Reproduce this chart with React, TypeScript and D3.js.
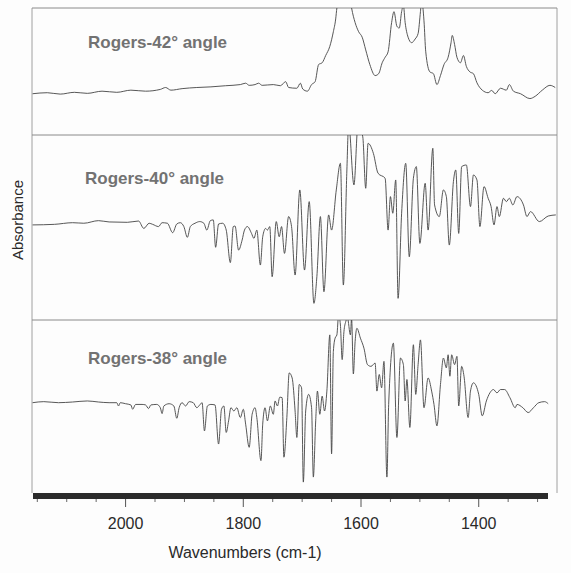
import React from "react";
import * as d3 from "d3";

// ---- data (wavenumber cm-1, relative absorbance within each panel 0..1) ----
const spectrum42: [number, number][] = [
  [2158, 0.325], [2133, 0.333], [2111, 0.322], [2087, 0.336], [2065, 0.328], [2040, 0.345],
  [2015, 0.336], [1991, 0.353], [1966, 0.345], [1941, 0.359], [1932, 0.374], [1923, 0.353],
  [1904, 0.365], [1879, 0.374], [1855, 0.379], [1830, 0.388], [1805, 0.397], [1796, 0.408],
  [1790, 0.391], [1780, 0.397], [1774, 0.408], [1768, 0.391], [1749, 0.397],
  [1737, 0.388], [1728, 0.42], [1723, 0.374], [1709, 0.368], [1703, 0.408], [1699, 0.362],
  [1691, 0.345], [1684, 0.397], [1678, 0.42], [1672, 0.555], [1666, 0.569], [1660, 0.626],
  [1653, 0.698], [1647, 0.813], [1643, 0.914], [1641, 1.0], [1632, 1.15], [1620, 1.12],
  [1616, 1.0], [1610, 0.885], [1604, 0.813], [1598, 0.77], [1592, 0.67], [1585, 0.555],
  [1576, 0.468], [1570, 0.483], [1564, 0.569], [1559, 0.612], [1554, 0.655], [1548, 0.885],
  [1544, 0.971], [1539, 0.856], [1535, 0.842], [1531, 0.971], [1528, 1.02], [1525, 0.885],
  [1520, 0.77], [1514, 0.727], [1508, 0.756], [1503, 0.799], [1499, 0.971], [1497, 1.06],
  [1493, 0.899], [1490, 0.655], [1483, 0.497], [1477, 0.483], [1471, 0.397], [1465, 0.468],
  [1459, 0.555], [1452, 0.612], [1447, 0.727], [1445, 0.784], [1441, 0.713], [1437, 0.612],
  [1431, 0.569], [1426, 0.626], [1421, 0.54], [1415, 0.497], [1409, 0.483], [1403, 0.411],
  [1394, 0.353], [1384, 0.333], [1378, 0.351], [1372, 0.325], [1363, 0.368], [1353, 0.353],
  [1348, 0.397], [1341, 0.345], [1329, 0.325], [1313, 0.287], [1304, 0.305], [1292, 0.353],
  [1279, 0.391], [1270, 0.374],
];

const spectrum40: [number, number][] = [
  [2158, 0.514], [2121, 0.517], [2090, 0.526], [2071, 0.523], [2046, 0.537], [2028, 0.53],
  [1997, 0.528], [1978, 0.535], [1969, 0.495], [1960, 0.523], [1954, 0.517], [1944, 0.505],
  [1938, 0.526], [1929, 0.523], [1920, 0.472], [1913, 0.519], [1907, 0.526], [1901, 0.505],
  [1895, 0.447], [1890, 0.505], [1882, 0.523], [1874, 0.532], [1867, 0.523], [1862, 0.486],
  [1856, 0.537], [1851, 0.541], [1847, 0.393], [1842, 0.519], [1835, 0.523], [1829, 0.486],
  [1822, 0.31], [1817, 0.505], [1814, 0.508], [1808, 0.378], [1802, 0.432], [1798, 0.486],
  [1793, 0.505], [1786, 0.468], [1782, 0.441], [1777, 0.486], [1771, 0.297], [1767, 0.45],
  [1762, 0.495], [1759, 0.486], [1755, 0.505], [1751, 0.234], [1744, 0.532], [1739, 0.45],
  [1735, 0.505], [1730, 0.36], [1723, 0.559], [1718, 0.505], [1712, 0.243], [1704, 0.703],
  [1696, 0.27], [1688, 0.64], [1680, 0.09], [1675, 0.234], [1669, 0.559], [1663, 0.153],
  [1655, 0.568], [1650, 0.486], [1642, 0.703], [1635, 0.847], [1630, 0.189], [1624, 0.811],
  [1621, 1.06], [1612, 0.73], [1605, 1.06], [1597, 0.99], [1592, 0.712], [1588, 0.955],
  [1579, 0.901], [1571, 0.793], [1559, 0.766], [1554, 0.486], [1550, 0.667], [1546, 0.577],
  [1541, 0.757], [1537, 0.117], [1531, 0.577], [1524, 0.847], [1518, 0.342], [1511, 0.766],
  [1506, 0.829], [1500, 0.414], [1491, 0.739], [1486, 0.486], [1478, 0.928], [1475, 0.622],
  [1467, 0.559], [1460, 0.703], [1455, 0.667], [1450, 0.405], [1443, 0.748], [1439, 0.811],
  [1434, 0.468], [1429, 0.829], [1421, 0.838], [1414, 0.613], [1409, 0.784], [1403, 0.757],
  [1398, 0.505], [1391, 0.721], [1384, 0.658], [1379, 0.613], [1374, 0.514], [1369, 0.613],
  [1365, 0.559], [1358, 0.658], [1353, 0.64], [1348, 0.658], [1342, 0.622], [1335, 0.667],
  [1324, 0.622], [1318, 0.559], [1312, 0.586], [1297, 0.532], [1282, 0.562], [1269, 0.568],
];

const spectrum38: [number, number][] = [
  [2158, 0.522], [2139, 0.528], [2114, 0.522], [2090, 0.526], [2065, 0.532], [2046, 0.526],
  [2028, 0.522], [2015, 0.522], [2012, 0.503], [2009, 0.522], [2000, 0.516], [1991, 0.509],
  [1988, 0.484], [1983, 0.512], [1972, 0.512], [1966, 0.509], [1961, 0.488], [1957, 0.509],
  [1947, 0.512], [1941, 0.493], [1938, 0.459], [1935, 0.503], [1926, 0.516], [1918, 0.503],
  [1913, 0.432], [1909, 0.493], [1904, 0.522], [1898, 0.503], [1892, 0.528], [1885, 0.522],
  [1879, 0.493], [1874, 0.509], [1870, 0.522], [1866, 0.359], [1861, 0.503], [1855, 0.512],
  [1848, 0.509], [1842, 0.283], [1837, 0.484], [1833, 0.503], [1829, 0.35], [1825, 0.417],
  [1821, 0.493], [1816, 0.474], [1811, 0.493], [1805, 0.436], [1800, 0.484], [1796, 0.398],
  [1790, 0.264], [1785, 0.455], [1780, 0.493], [1777, 0.436], [1770, 0.187], [1767, 0.398],
  [1763, 0.493], [1759, 0.417], [1754, 0.503], [1749, 0.455], [1746, 0.532], [1742, 0.503],
  [1738, 0.554], [1734, 0.551], [1731, 0.207], [1726, 0.436], [1722, 0.694], [1717, 0.665],
  [1712, 0.474], [1709, 0.321], [1705, 0.627], [1701, 0.608], [1698, 0.063], [1694, 0.474],
  [1689, 0.57], [1684, 0.493], [1681, 0.092], [1677, 0.417], [1674, 0.589], [1670, 0.455],
  [1666, 0.56], [1662, 0.474], [1658, 0.589], [1653, 0.914], [1650, 0.226], [1647, 0.818],
  [1644, 0.895], [1641, 0.914], [1638, 1.03], [1635, 0.971], [1632, 0.771], [1629, 0.933],
  [1626, 0.99], [1623, 1.01], [1618, 0.914], [1616, 1.01], [1613, 0.688], [1610, 0.876],
  [1607, 0.952], [1601, 0.895], [1595, 0.837], [1589, 0.742], [1583, 0.732], [1576, 0.751],
  [1573, 0.589], [1569, 0.685], [1565, 0.608], [1561, 0.761], [1556, 0.092], [1553, 0.512],
  [1545, 0.866], [1539, 0.321], [1533, 0.78], [1528, 0.742], [1525, 0.532], [1522, 0.656],
  [1517, 0.379], [1511, 0.857], [1507, 0.57], [1503, 0.742], [1499, 0.885], [1493, 0.493],
  [1486, 0.665], [1480, 0.589], [1476, 0.512], [1471, 0.388], [1465, 0.627], [1460, 0.78],
  [1455, 0.723], [1452, 0.799], [1449, 0.675], [1446, 0.799], [1441, 0.742], [1437, 0.79],
  [1434, 0.503], [1429, 0.732], [1425, 0.675], [1418, 0.436], [1414, 0.589], [1409, 0.637],
  [1400, 0.57], [1394, 0.446], [1387, 0.532], [1381, 0.579], [1375, 0.598], [1369, 0.579],
  [1363, 0.598], [1356, 0.598], [1347, 0.551], [1338, 0.493], [1335, 0.512], [1325, 0.493],
  [1316, 0.465], [1307, 0.493], [1298, 0.522], [1288, 0.528], [1282, 0.516],
];

const panelLabels = ["Rogers-42° angle", "Rogers-40° angle", "Rogers-38° angle"];
const majorTicks = [2000, 1800, 1600, 1400];
const minorTicks = [2150, 2100, 2050, 1950, 1900, 1850, 1750, 1700, 1650, 1550, 1500, 1450, 1350, 1300];
const xDomain: [number, number] = [2159, 1267];

export default function App() {
  const W = 571, H = 573;
  const left = 32, right = 557;
  const x = d3.scaleLinear().domain(xDomain).range([left, right]);
  const panels = [
    { top: 8, bottom: 135, data: spectrum42, labelX: 88, labelY: 48 },
    { top: 135, bottom: 320, data: spectrum40, labelX: 85, labelY: 184 },
    { top: 320, bottom: 493, data: spectrum38, labelX: 88, labelY: 364 },
  ];
  const barTop = 493, barH = 6;
  const barEnd = 548;

  return (
    <svg width={W} height={H} style={{ display: "block", position: "absolute", left: 0, top: 0, background: "#fdfdfd" }}
      fontFamily="'Liberation Sans', Arial, sans-serif">
      <rect x={0} y={0} width={W} height={H} fill="#fdfdfd" />
      <defs>
        {panels.map((p, i) => (
          <clipPath id={`clip${i}`} key={i}>
            <rect x={left} y={p.top} width={right - left} height={p.bottom - p.top} />
          </clipPath>
        ))}
      </defs>
      {/* frame */}
      <line x1={left} y1={8} x2={left} y2={barTop} stroke="#a0a0a0" strokeWidth={1} />
      <line x1={right} y1={8} x2={right} y2={barTop} stroke="#a0a0a0" strokeWidth={1} />
      {panels.map((p, i) => (
        <line key={"t" + i} x1={left} y1={p.top} x2={right} y2={p.top} stroke="#8a8a8a" strokeWidth={1} />
      ))}
      {panels.map((p, i) => {
        const y = d3.scaleLinear().domain([0, 1]).range([p.bottom, p.top]);
        const line = d3.line<[number, number]>().x((d) => x(d[0])).y((d) => y(d[1])).curve(d3.curveMonotoneX);
        return (
          <g key={"p" + i}>
            <path d={line(p.data) || ""} fill="none" stroke="#444" strokeWidth={0.9} clipPath={`url(#clip${i})`} />
            <text x={p.labelX} y={p.labelY} fontSize={17} fontWeight="bold" fill="#727272">{panelLabels[i]}</text>
          </g>
        );
      })}
      {/* x axis bar */}
      <rect x={left + 1} y={barTop} width={barEnd - left - 1} height={barH} fill="#2b2b2b" />
      {majorTicks.map((t) => (
        <g key={t}>
          <line x1={x(t)} y1={barTop + barH} x2={x(t)} y2={barTop + barH + 8} stroke="#555" strokeWidth={1} />
          <text x={x(t)} y={529} fontSize={16} textAnchor="middle" fill="#2a2a2a">{t}</text>
        </g>
      ))}
      {minorTicks.map((t) => (
        <line key={t} x1={x(t)} y1={barTop + barH} x2={x(t)} y2={barTop + barH + 3} stroke="#666" strokeWidth={1} />
      ))}
      <text x={245} y={558} fontSize={16} textAnchor="middle" fill="#2a2a2a">Wavenumbers (cm-1)</text>
      <text transform="translate(23,220) rotate(-90)" fontSize={15} textAnchor="middle" fill="#2a2a2a">Absorbance</text>
    </svg>
  );
}
